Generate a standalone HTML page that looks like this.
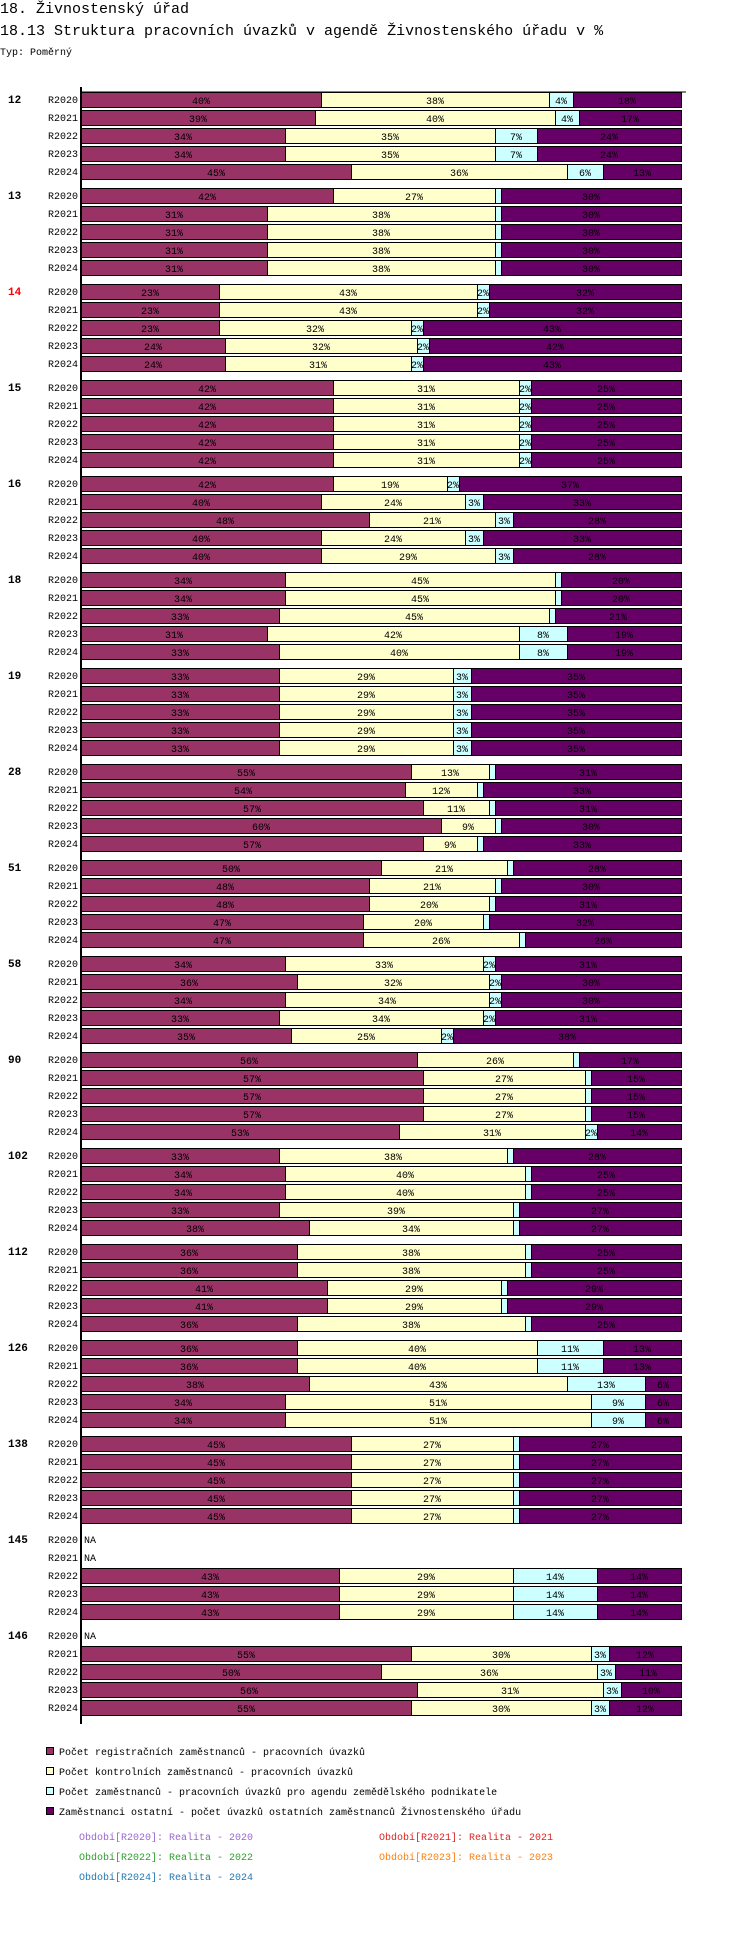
<!DOCTYPE html>
<html><head><meta charset="utf-8">
<style>
body{margin:0;background:#fff;width:750px;height:1934px;overflow:hidden;font-family:"Liberation Mono",monospace;}
svg text{font-family:"Liberation Mono","DejaVu Sans Mono",monospace;}
</style></head>
<body>
<svg id="chart" width="750" height="1934" xmlns="http://www.w3.org/2000/svg">
<text x="0" y="13" font-size="15" fill="#000">18. Živnostenský úřad</text>
<text x="0" y="35" font-size="15" fill="#000">18.13 Struktura pracovních úvazků v agendě Živnostenského úřadu v %</text>
<text x="0" y="55" font-size="10" fill="#000">Typ: Poměrný</text>
<g id="bars"></g>
<g id="legend"></g>
</svg>
<script>
const groups = ["12","13","14","15","16","18","19","28","51","58","90","102","112","126","138","145","146"];
const periods = ["R2020","R2021","R2022","R2023","R2024"];
const seriesNames = ["Počet registračních zaměstnanců - pracovních úvazků","Počet kontrolních zaměstnanců - pracovních úvazků","Počet zaměstnanců - pracovních úvazků pro agendu zemědělského podnikatele","Zaměstnanci ostatní - počet úvazků ostatních zaměstnanců Živnostenského úřadu"];
const seriesColors = ["#993366","#ffffcc","#ccffff","#660066"];
const reg = [40,39,34,34,45, 42,31,31,31,31, 23,23,23,24,24, 42,42,42,42,42, 42,40,48,40,40, 34,34,33,31,33, 33,33,33,33,33, 55,54,57,60,57, 50,48,48,47,47, 34,36,34,33,35, 56,57,57,57,53, 33,34,34,33,38, 36,36,41,41,36, 36,36,38,34,34, 45,45,45,45,45, null,null,43,43,43, null,55,50,56,55];
const kon = [38,40,35,35,36, 27,38,38,38,38, 43,43,32,32,31, 31,31,31,31,31, 19,24,21,24,29, 45,45,45,42,40, 29,29,29,29,29, 13,12,11,9,9, 21,21,20,20,26, 33,32,34,34,25, 26,27,27,27,31, 38,40,40,39,34, 38,38,29,29,38, 40,40,43,51,51, 27,27,27,27,27, null,null,29,29,29, null,30,36,31,30];
const zem = [4,4,7,7,6, 1,1,1,1,1, 2,2,2,2,2, 2,2,2,2,2, 2,3,3,3,3, 1,1,1,8,8, 3,3,3,3,3, 1,1,1,1,1, 1,1,1,1,1, 2,2,2,2,2, 1,1,1,1,2, 1,1,1,1,1, 1,1,1,1,1, 11,11,13,9,9, 1,1,1,1,1, null,null,14,14,14, null,3,3,3,3];
const ost = [18,17,24,24,13, 30,30,30,30,30, 32,32,43,42,43, 25,25,25,25,25, 37,33,28,33,28, 20,20,21,19,19, 35,35,35,35,35, 31,33,31,30,33, 28,30,31,32,26, 31,30,30,31,38, 17,15,15,15,14, 28,25,25,27,27, 25,25,29,29,25, 13,13,6,6,6, 27,27,27,27,27, null,null,14,14,14, null,12,11,10,12];
const periodLegend = ["Období[R2020]: Realita - 2020","Období[R2021]: Realita - 2021","Období[R2022]: Realita - 2022","Období[R2023]: Realita - 2023","Období[R2024]: Realita - 2024"];
const periodColors = ["#9966cc","#dd2222","#2ca02c","#ff7f0e","#1f77b4"];

const NS="http://www.w3.org/2000/svg";
const X0=81, W=600, Y0=92, ROW=18, GROUP=96, BH=15;
function xScale(frac){return X0+frac*W;}
function rowY(g,r){return Y0+g*GROUP+r*ROW;}
function mk(tag,attrs,parent){const e=document.createElementNS(NS,tag);for(const k in attrs)e.setAttribute(k,attrs[k]);parent.appendChild(e);return e;}
const bars=document.getElementById('bars');
const series=[reg,kon,zem,ost];
let ax=mk('line',{x1:X0,y1:87,x2:X0,y2:1724,stroke:'#000','stroke-width':2},bars);


let tl=mk('line',{x1:X0,y1:92,x2:686,y2:92,stroke:'#000','stroke-width':1},bars);


groups.forEach((g,gi)=>{
  const gt=mk('text',{x:8,y:rowY(gi,0)+11,'font-size':11,'font-weight':'bold',fill:g==="14"?'#ff0000':'#000'},bars);
  gt.textContent=g;
  
  
  periods.forEach((p,pi)=>{
    const i=gi*5+pi, y=rowY(gi,pi);
    const pt=mk('text',{x:78,y:y+11,'font-size':10,'text-anchor':'end',fill:'#000'},bars);
    pt.textContent=p;
    
    
    const vals=series.map(s=>s[i]);
    if(vals[0]===null){
      const na=mk('text',{x:84,y:y+11,'font-size':10,fill:'#000'},bars);
      na.textContent='NA';
      
      
      return;
    }
    const tot=vals.reduce((a,b)=>a+b,0);
    let acc=0;
    vals.forEach((v,si)=>{
      const x1=xScale(acc/tot), x2=xScale((acc+v)/tot); acc+=v;
      const r=mk('rect',{x:x1+0.5,y:y+0.5,width:Math.max(0,x2-x1),height:BH,fill:seriesColors[si],stroke:'#000','stroke-width':1},bars);
      
      
      if(x2-x1>9){
        const t=mk('text',{x:(x1+x2)/2,y:y+12,'font-size':10,'text-anchor':'middle',fill:'#000'},bars);
        t.textContent=v+'%';
        
        
      }
    });
  });
});
const lg=document.getElementById('legend');
seriesNames.forEach((n,i)=>{
  const y=1751+i*20;
  const s=mk('rect',{x:46.5,y:y-3.5,width:7,height:7,fill:seriesColors[i],stroke:'#000'},lg);
  
  
  const t=mk('text',{x:59,y:y+4,'font-size':10,fill:'#000'},lg);
  t.textContent=n;
  
  
});
periodLegend.forEach((n,i)=>{
  const col=i%2, row=Math.floor(i/2);
  const t=mk('text',{x:col?379:79,y:1836+row*20+4,'font-size':10,fill:periodColors[i]},lg);
  t.textContent=n;
  
  
});
</script>
</body></html>
